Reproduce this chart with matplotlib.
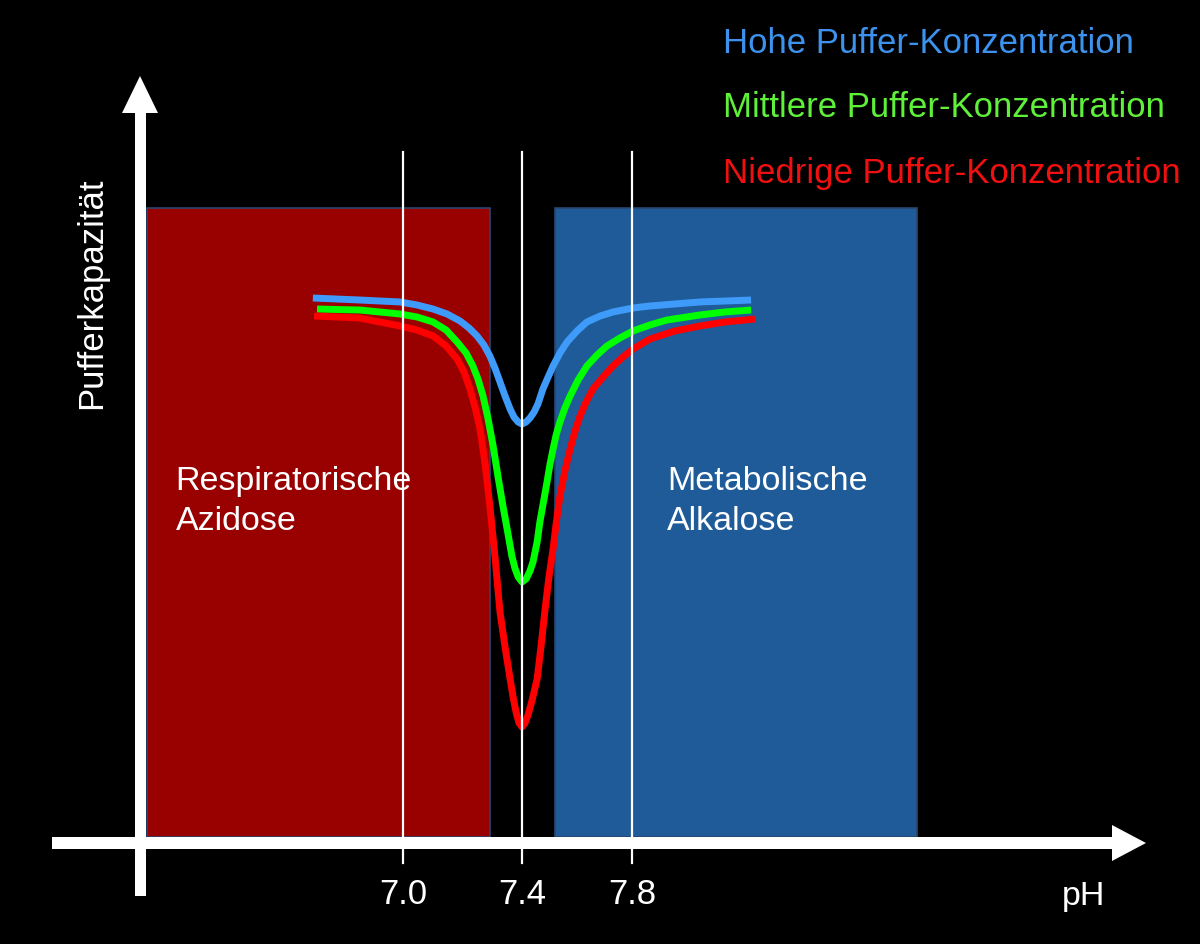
import numpy as np
import matplotlib
matplotlib.use("Agg")
import matplotlib.pyplot as plt
from matplotlib.patches import Rectangle, Polygon

plt.rcParams['font.family'] = ['Liberation Sans', 'DejaVu Sans']

# ---------------- data ----------------
tick_values = [7.0, 7.4, 7.8]
tick_labels = ["7.0", "7.4", "7.8"]

series_names = ["Hohe Puffer-Konzentration",
                "Mittlere Puffer-Konzentration",
                "Niedrige Puffer-Konzentration"]

ph_high = [6.697, 6.855, 6.990, 7.047, 7.101, 7.148, 7.192, 7.222, 7.249, 7.272,
           7.292, 7.309, 7.326, 7.343, 7.360, 7.373, 7.387, 7.400, 7.415, 7.429,
           7.444, 7.458, 7.476, 7.495, 7.513, 7.538, 7.564, 7.600, 7.636, 7.684,
           7.731, 7.804, 7.865, 7.956, 8.047, 8.138, 8.233]
cap_high = [85.69, 85.37, 85.06, 84.58, 83.94, 83.15, 82.03, 80.92, 79.65, 78.22,
            76.47, 74.56, 72.34, 70.11, 68.04, 66.77, 65.98, 65.66, 65.98, 66.61,
            67.57, 68.84, 71.22, 73.13, 74.88, 76.95, 78.70, 80.45, 81.88, 82.83,
            83.47, 84.10, 84.42, 84.74, 85.06, 85.21, 85.37]

ph_mid = [6.711, 6.855, 6.990, 7.047, 7.101, 7.145, 7.182, 7.212, 7.235, 7.252,
          7.269, 7.286, 7.303, 7.319, 7.336, 7.353, 7.366, 7.376, 7.387, 7.400,
          7.415, 7.429, 7.440, 7.455, 7.465, 7.480, 7.491, 7.502, 7.513, 7.524,
          7.538, 7.556, 7.575, 7.604, 7.636, 7.673, 7.709, 7.756, 7.804, 7.865,
          7.927, 8.047, 8.138, 8.233]
cap_mid = [83.94, 83.78, 83.15, 82.67, 81.88, 80.60, 78.70, 76.95, 74.88, 72.81,
           70.11, 66.45, 62.16, 57.39, 52.62, 48.17, 44.67, 42.77, 41.34, 40.54,
           41.02, 42.29, 43.72, 46.90, 50.08, 53.74, 56.44, 59.30, 61.69, 63.91,
           65.98, 68.20, 70.11, 72.66, 74.88, 76.63, 78.06, 79.33, 80.45, 81.40,
           82.19, 82.99, 83.47, 83.78]

ph_low = [6.701, 6.855, 6.990, 7.047, 7.101, 7.145, 7.182, 7.205, 7.225, 7.242,
          7.259, 7.276, 7.292, 7.309, 7.326, 7.343, 7.360, 7.370, 7.380, 7.390,
          7.400, 7.411, 7.422, 7.436, 7.455, 7.469, 7.484, 7.498, 7.513, 7.524,
          7.538, 7.556, 7.575, 7.593, 7.611, 7.633, 7.658, 7.695, 7.731, 7.767,
          7.804, 7.865, 7.956, 8.047, 8.138, 8.247]
cap_low = [82.83, 82.51, 81.24, 80.60, 79.65, 78.06, 75.99, 73.93, 71.22, 68.36,
           64.86, 59.30, 52.62, 44.67, 35.77, 30.21, 25.12, 22.26, 19.87, 18.12,
           17.49, 18.12, 19.40, 21.62, 25.12, 30.21, 36.25, 41.34, 45.79, 49.76,
           54.21, 58.19, 61.69, 64.55, 66.93, 69.16, 71.22, 73.13, 74.88, 76.31,
           77.58, 79.17, 80.45, 81.24, 81.88, 82.35]

# regions (pH range, capacity range)
acid_range = [6.139, 7.292]
alk_range = [7.52, 8.836]
region_cap = [0, 100]
acid_label = ["Respiratorische", "Azidose"]
alk_label = ["Metabolische", "Alkalose"]

# ---------------- styling ----------------
curve_colors = ["#3f9bfa", "#00ff00", "#ff0000"]
text_colors = ["#3c92ec", "#5ff03a", "#f01010"]
acid_color = "#990000"
alk_color = "#1f5b98"
edge_color = "#2a4670"

W, H = 1200, 945
fig = plt.figure(figsize=(W / 100, H / 100), dpi=100, facecolor="black")
ax = fig.add_axes([0, 0, 1, 1])
ax.set_facecolor("black")

# schematic pH axis: slightly different spacing left / right of 7.4
def fwd(x):
    x = np.asarray(x, dtype=float)
    return np.where(x < 7.4, (x - 7.4) * 297.5, (x - 7.4) * 275.0)

def inv(u):
    u = np.asarray(u, dtype=float)
    return np.where(u < 0, 7.4 + u / 297.5, 7.4 + u / 275.0)

ax.set_xscale("function", functions=(fwd, inv))

# regions
for rng, col in [(acid_range, acid_color), (alk_range, alk_color)]:
    ax.add_patch(Rectangle((rng[0], region_cap[0]), rng[1] - rng[0],
                           region_cap[1] - region_cap[0],
                           facecolor=col, edgecolor=edge_color, lw=1.2, zorder=1))

# curves
for xs, ys, c in [(ph_high, cap_high, curve_colors[0]),
                  (ph_mid, cap_mid, curve_colors[1]),
                  (ph_low, cap_low, curve_colors[2])]:
    ax.plot(xs, ys, color=c, lw=5, solid_capstyle="butt",
            solid_joinstyle="round", antialiased=True, zorder=3)

# vertical reference lines
for tv in tick_values:
    ax.plot([tv, tv], [-4.1, 108.9], color="white", lw=1.6, zorder=4)

# tick labels
for tv, tl in zip(tick_values, tick_labels):
    ax.text(tv, -10.5, tl, color="white", fontsize=25, ha="center",
            va="baseline", zorder=5)

# region labels
lab_fs = 24.5
ax.text(6.236, 55.3, acid_label[0], color="white", fontsize=lab_fs, va="baseline", zorder=5)
ax.text(6.236, 48.9, acid_label[1], color="white", fontsize=lab_fs, va="baseline", zorder=5)
ax.text(7.928, 55.3, alk_label[0], color="white", fontsize=lab_fs, va="baseline", zorder=5)
ax.text(7.928, 48.9, alk_label[1], color="white", fontsize=lab_fs, va="baseline", zorder=5)

ax.set_xlim(7.4 - 522 / 297.5, 7.4 + 678 / 275.0)
ax.set_ylim((838 - 945) / 6.29, 838 / 6.29)
ax.axis("off")

# axis arrows (figure pixel layout -> axes fraction)
def fx(px):
    return px / W

def fy(py):
    return 1 - py / H

tr = ax.transAxes
ax.add_patch(Rectangle((fx(135), fy(897)), fx(146) - fx(135), fy(113) - fy(897),
                       facecolor="white", edgecolor="none", transform=tr,
                       clip_on=False, zorder=6))
ax.add_patch(Polygon([(fx(122), fy(114)), (fx(158), fy(114)), (fx(140), fy(77))],
                     closed=True, facecolor="white", edgecolor="none",
                     transform=tr, clip_on=False, zorder=6))
ax.add_patch(Rectangle((fx(52), fy(850)), fx(1113) - fx(52), fy(838) - fy(850),
                       facecolor="white", edgecolor="none", transform=tr,
                       clip_on=False, zorder=6))
ax.add_patch(Polygon([(fx(1112), fy(826)), (fx(1112), fy(862)), (fx(1146), fy(844))],
                     closed=True, facecolor="white", edgecolor="none",
                     transform=tr, clip_on=False, zorder=6))

# axis titles
ax.text(fx(1084), fy(905), "pH", color="white", fontsize=24.5, ha="center",
        va="baseline", transform=tr)
ax.text(fx(92), fy(293), "Pufferkapazität", color="white", fontsize=25,
        rotation=90, ha="center", va="center", transform=tr)

# legend texts
for name, col, base in zip(series_names, text_colors, [53, 117, 183]):
    ax.text(fx(723), fy(base), name, color=col, fontsize=25, ha="left",
            va="baseline", transform=tr)

fig.savefig("out.png", dpi=100, facecolor="black")
